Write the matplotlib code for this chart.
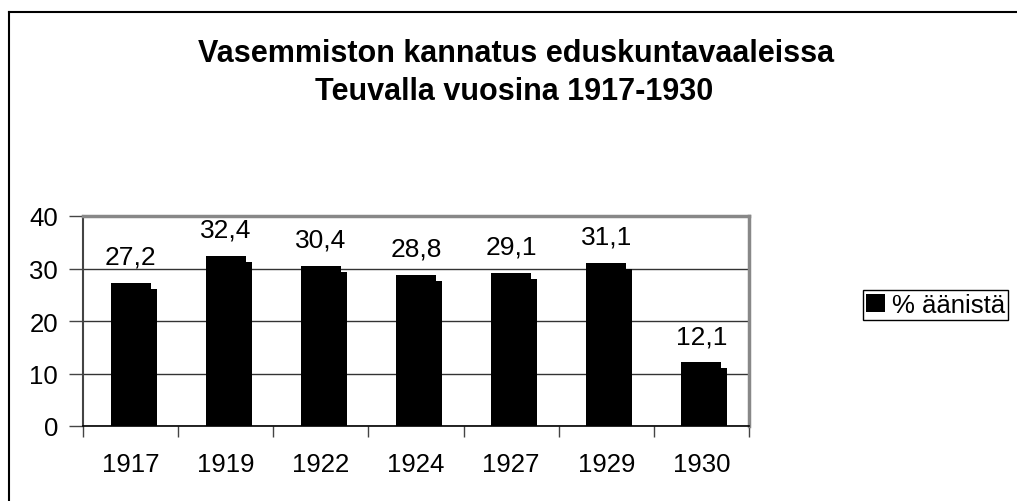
import matplotlib
matplotlib.use("Agg")
import matplotlib.pyplot as plt
from matplotlib.lines import Line2D

years = ["1917", "1919", "1922", "1924", "1927", "1929", "1930"]
values = [27.2, 32.4, 30.4, 28.8, 29.1, 31.1, 12.1]
value_labels = ["27,2", "32,4", "30,4", "28,8", "29,1", "31,1", "12,1"]
series_name = "% äänistä"
title_lines = ["Vasemmiston kannatus eduskuntavaaleissa", "Teuvalla vuosina 1917-1930"]

plt.rcParams['font.family'] = ['Liberation Sans', 'DejaVu Sans']

W, H = 1017, 502
fig = plt.figure(figsize=(W / 100, H / 100), dpi=100)
fig.patch.set_facecolor("white")

def fx(px):
    return px / W

def fy(py):
    return 1 - py / H

# outer chart border (extends past right and bottom edges)
fig.add_artist(Line2D([fx(9), fx(W + 5)], [fy(13), fy(13)], color="black", lw=1.5, transform=fig.transFigure))
fig.add_artist(Line2D([fx(9), fx(9)], [fy(13), fy(H + 5)], color="black", lw=1.5, transform=fig.transFigure))

# title
fig.text(fx(516), fy(62), title_lines[0], ha="center", va="baseline", fontsize=22, fontweight="bold")
fig.text(fx(514), fy(100), title_lines[1], ha="center", va="baseline", fontsize=22, fontweight="bold")

ax = fig.add_axes([fx(83), fy(427), fx(749) - fx(83), fy(217) - fy(427)])
ax.set_xlim(-0.5, len(years) - 0.5)
ax.set_ylim(0, 40)

px_per_cat = (749 - 83) / len(years)
px_per_unit = (427 - 217) / 40
front_w = 40 / px_per_cat
side_w = 6 / px_per_cat
side_drop = 6 / px_per_unit

x = list(range(len(years)))
# side (depth) piece
ax.bar([i + front_w / 2 + side_w / 2 for i in x], [v - side_drop for v in values],
       width=side_w, color="black", edgecolor="none", zorder=3)
bars = ax.bar(x, values, width=front_w, color="black", edgecolor="none", zorder=4, label=series_name)

for i, (v, lab) in enumerate(zip(values, value_labels)):
    ax.annotate(lab, (i, v), xytext=(0, 14), textcoords="offset points",
                ha="center", va="baseline", fontsize=19)

# gridlines
ax.set_yticks([0, 10, 20, 30, 40])
ax.yaxis.grid(True, color="#333333", lw=1)
ax.set_axisbelow(True)

for s in ["top", "right"]:
    ax.spines[s].set_color("#888888")
    ax.spines[s].set_linewidth(2.5)
ax.spines["left"].set_color("#444444")
ax.spines["left"].set_linewidth(1.5)
ax.spines["bottom"].set_color("black")
ax.spines["bottom"].set_linewidth(1.2)

ax.tick_params(axis="y", length=10, width=1, color="#444444", pad=8, labelsize=18.5)
ax.set_xticks(x)
ax.set_xticklabels(years)
ax.tick_params(axis="x", which="major", length=0, pad=19, labelsize=18.5)
ax.set_xticks([i - 0.5 for i in range(len(years) + 1)], minor=True)
ax.tick_params(axis="x", which="minor", length=8, width=1, color="#444444")

leg = ax.legend(loc="center left", bbox_to_anchor=(fx(863), fy(306)), bbox_transform=fig.transFigure,
                fontsize=18.5, frameon=True, fancybox=False, edgecolor="black", framealpha=1,
                handlelength=0.75, handleheight=0.75, handletextpad=0.25, borderpad=0.12,
                borderaxespad=0)
leg.get_frame().set_linewidth(1)

fig.savefig("out.png", dpi=100, facecolor="white")
